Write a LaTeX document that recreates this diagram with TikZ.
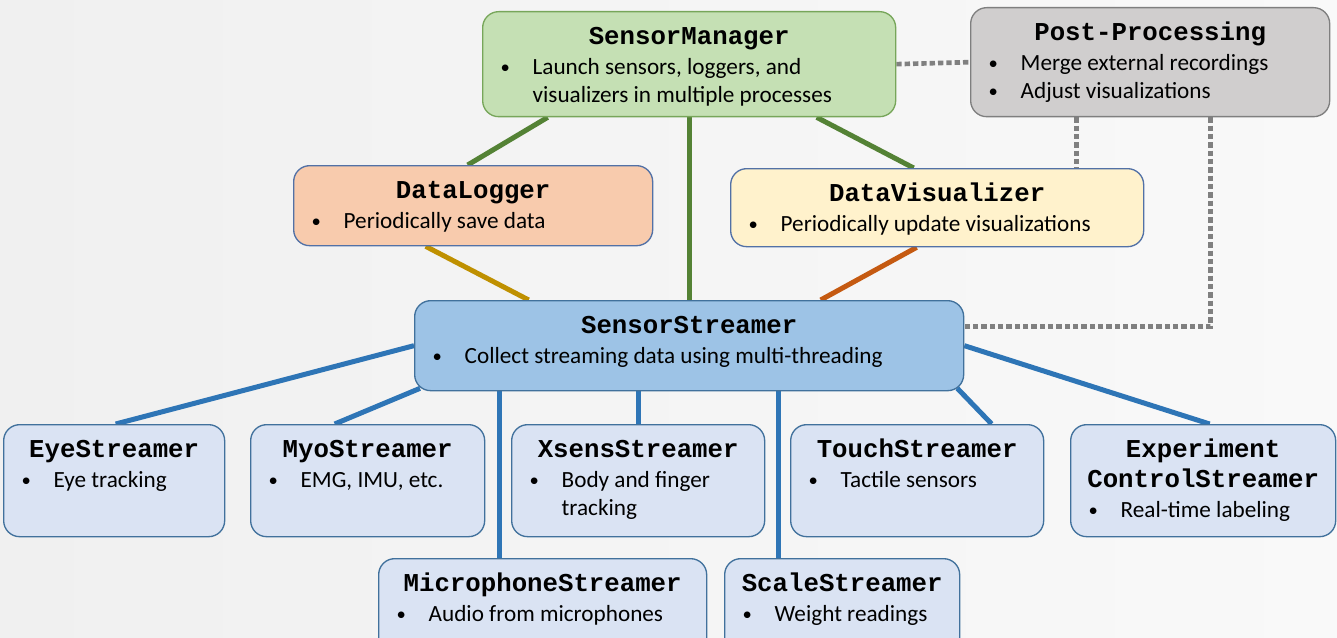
\documentclass[tikz,border=0pt]{standalone}
\usepackage{fontspec}
\setmainfont{Carlito}
\newfontfamily\codefont{Liberation Mono}
\usetikzlibrary{calc,backgrounds}

\definecolor{bgleft}{HTML}{F0F0F0}
\definecolor{bgright}{HTML}{F9F9F9}
\definecolor{mgrfill}{HTML}{C5E0B4}
\definecolor{mgrline}{HTML}{77A65A}
\definecolor{postfill}{HTML}{D0CECE}
\definecolor{postline}{HTML}{7F7F7F}
\definecolor{logfill}{HTML}{F8CBAD}
\definecolor{visfill}{HTML}{FFF2CC}
\definecolor{midline}{HTML}{5271A6}
\definecolor{streamfill}{HTML}{9DC3E6}
\definecolor{subfill}{HTML}{DAE3F3}
\definecolor{streamline}{HTML}{41719C}
\definecolor{greenlink}{HTML}{548235}
\definecolor{goldlink}{HTML}{BF9000}
\definecolor{orangelink}{HTML}{C55A11}
\definecolor{bluelink}{HTML}{2E75B6}
\definecolor{dotgray}{HTML}{808080}

\newlength\px
\setlength\px{0.75pt}
\newcommand{\boxtext}[4]{\parbox[c][#2\px][t]{#1\px}{\centering\codefont\bfseries\fontsize{19.3pt}{22.5pt}\selectfont\rule{0pt}{24.75pt}#3\par\vspace{1.5pt}\raggedright\normalfont\fontsize{17.4pt}{21pt}\selectfont #4}}
\newcommand{\itm}[1]{\par\noindent\hangindent=50\px\hangafter=1\makebox[50\px][l]{\hspace{18\px}\raisebox{0.6pt}{\fontsize{14pt}{14pt}\selectfont\textbullet}}#1}

\begin{document}
\begin{tikzpicture}[x=0.75pt, y=-0.75pt,
    box/.style={draw=#1, line width=1pt, rounded corners=12pt, inner sep=0pt, anchor=north west},
    link/.style={line width=3.75pt, draw=#1},
    dots/.style={line width=3.5pt, draw=dotgray, dash pattern=on 4pt off 2.25pt}]
    \useasboundingbox (0,0) rectangle (1337,638);

    \node[box=mgrline, fill=mgrfill] (mgr) at (482,11) {\boxtext{413}{105}{SensorManager}{\itm{Launch sensors, loggers, and\newline visualizers in multiple processes}}};
    \node[box=postline, fill=postfill] (post) at (970,7) {\boxtext{359}{109}{Post-Processing}{\itm{Merge external recordings}\itm{Adjust visualizations}}};
    \node[box=midline, fill=logfill] (logger) at (293,165) {\boxtext{359}{80}{DataLogger}{\itm{Periodically save data}}};
    \node[box=midline, fill=visfill] (vis) at (730,168) {\boxtext{413}{78}{DataVisualizer}{\itm{Periodically update visualizations}}};
    \node[box=streamline, fill=streamfill] (streamer) at (414,300) {\boxtext{549}{90}{SensorStreamer}{\itm{Collect streaming data using multi-threading}}};

    \node[box=streamline, fill=subfill] (eye) at (3,424) {\boxtext{221}{112}{EyeStreamer}{\itm{Eye tracking}}};
    \node[box=streamline, fill=subfill] (myo) at (250,424) {\boxtext{234}{112}{MyoStreamer}{\itm{EMG, IMU, etc.}}};
    \node[box=streamline, fill=subfill] (xsens) at (511,424) {\boxtext{253}{112}{XsensStreamer}{\itm{Body and finger\newline tracking}}};
    \node[box=streamline, fill=subfill] (touch) at (790,424) {\boxtext{253}{112}{TouchStreamer}{\itm{Tactile sensors}}};
    \node[box=streamline, fill=subfill] (exp) at (1070,424) {\boxtext{265}{112}{Experiment\\ControlStreamer}{\itm{Real-time labeling}}};
    \node[box=streamline, fill=subfill] (mic) at (378,558) {\boxtext{328}{95}{MicrophoneStreamer}{\itm{Audio from microphones}}};
    \node[box=streamline, fill=subfill] (scale) at (724,558) {\boxtext{235}{95}{ScaleStreamer}{\itm{Weight readings}}};

    \begin{scope}[on background layer]
    \fill[left color=bgleft, right color=bgright] (0,0) rectangle (1337,638);
    \draw[link=greenlink] ($(mgr.south)+(-141.5,0)$) -- ($(logger.north)+(-5.5,0)$);
    \draw[link=greenlink] (mgr.south) -- (streamer.north);
    \draw[link=greenlink] ($(mgr.south)+(127.5,0)$) -- ($(vis.north)+(-23.5,0)$);
    \draw[link=goldlink] ($(logger.south)+(-47.5,0)$) -- ($(streamer.north)+(-160.5,0)$);
    \draw[link=orangelink] ($(vis.south)+(-20.5,0)$) -- ($(streamer.north)+(131.5,0)$);
    \draw[dots] (mgr.east) -- (post.west);
    \draw[dots] ($(post.south)+(-73.5,0)$) -- ($(vis.north)+(139.5,0)$);
    \draw[dots] ($(post.south)+(60.5,0)$) |- ($(streamer.east)+(0,-19)$);
    \draw[link=bluelink] (streamer.west) -- ($(eye.north)+(1.5,0)$);
    \draw[link=bluelink] ($(streamer.south west)+(6,-3)$) -- ($(myo.north)+(-33,0)$);
    \draw[link=bluelink] ($(streamer.south)+(-189.5,0)$) -- ($(mic.north)+(-43,0)$);
    \draw[link=bluelink] (streamer.south -| xsens.north) -- (xsens.north);
    \draw[link=bluelink] ($(streamer.south)+(89.5,0)$) -- ($(scale.north)+(-63.5,0)$);
    \draw[link=bluelink] ($(streamer.south east)+(-7,-3)$) -- ($(touch.north)+(74.5,0)$);
    \draw[link=bluelink] (streamer.east) -- ($(exp.north)+(6.5,0)$);
    \end{scope}
\end{tikzpicture}
\end{document}
